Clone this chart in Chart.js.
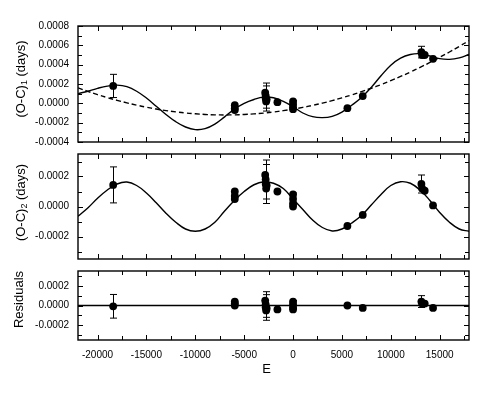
<!DOCTYPE html>
<html lang="en">
<head>
    <meta charset="UTF-8">
    <title>O-C diagram</title>
    <script src="https://cdn.jsdelivr.net/npm/chart.js"></script>
    <style>
        body {
            margin: 0;
            padding: 0;
            background: #fff;
        }
        .wrap {
            position: relative;
            width: 488px;
            height: 397px;
        }
        canvas {
            position: absolute;
            left: 0;
        }
    </style>
</head>
<body>
    <div class="wrap">
        <canvas id="c1" width="488" height="148" style="top:0px"></canvas>
        <canvas id="c2" width="488" height="116" style="top:148px"></canvas>
        <canvas id="c3" width="488" height="133" style="top:264px"></canvas>
    </div>

    <script>
        var obsE   = [-18400, -5960, -5960, -5960, -2850, -2800, -2800, -2750, -2700, -1600, 0, 0, 0, 0, 5560, 7130, 13130, 13200, 13470, 14320];
        var oc1    = [0.00018, -0.00002, -0.00005, -0.00007, 0.00011, 0.00008, 0.00005, 0.00002, 0.00004, 0.000012, 0.00002, -0.00001, -0.00004, -0.00006, -0.00005, 0.000075, 0.00053, 0.0005, 0.0005, 0.00046];
        var oc2    = [0.000144, 0.0001, 0.00007, 0.00005, 0.00021, 0.00018, 0.00015, 0.00012, 0.00014, 0.0001, 0.00008, 0.00005, 0.00002, 0.0, -0.00013, -0.000056, 0.00015, 0.00012, 0.000105, 0.000007];
        var resid  = [-0.000008, 0.00004, 0.00002, 0.0, 0.00005, 0.00001, -0.00002, -0.00005, -0.00003, -0.00004, 0.00004, 0.00001, -0.00002, -0.00004, 0.0, -0.000025, 0.00004, 0.00002, 0.00002, -0.000025];
        var obsErr = [0.00012, 0, 0, 0, 0, 0.00013, 0.00013, 0, 0, 0, 0, 0.00004, 0, 0, 0, 0, 0.00006, 0, 0, 0];

        // fitted curves, sampled off the plot
        var fitE = [-22000, -21000, -20000, -19000, -18000, -17000, -16000, -15000, -14000, -13000, -12000,
                    -11000, -10000, -9000, -8000, -7000, -6000, -5000, -4000, -3000, -2000, -1000, 0,
                    1000, 2000, 3000, 4000, 5000, 6000, 7000, 8000, 9000, 10000, 11000, 12000, 13000,
                    14000, 15000, 16000, 17000, 18000];
        var fitTotal = [0.0001, 0.000125, 0.000155, 0.000178, 0.000188, 0.000172, 0.000125, 0.000055, -0.00003, -0.000115, -0.00019,
                        -0.000245, -0.000272, -0.000262, -0.000215, -0.00014, -0.00006, 0.0, 0.00004, 0.000065, 0.000058, 0.00002, -0.000035,
                        -0.0001, -0.000138, -0.000148, -0.000135, -0.00009, -0.00002, 0.00006, 0.000165, 0.000285, 0.000395, 0.000468, 0.000505, 0.000513,
                        0.00049, 0.000462, 0.000455, 0.00047, 0.000505];
        var fitQuad = [0.00016, 0.000124, 0.00009, 0.000059, 0.000031, 0.000005, -0.000019, -0.00004, -0.000059, -0.000075, -0.000088,
                       -0.0001, -0.000108, -0.000115, -0.000119, -0.00012, -0.000119, -0.000115, -0.000109, -0.000101, -0.00009, -0.000076, -0.00006,
                       -0.000042, -0.000021, 0.000002, 0.000028, 0.000057, 0.000087, 0.000121, 0.000156, 0.000194, 0.000235, 0.000278, 0.000324, 0.000372,
                       0.000423, 0.000476, 0.000531, 0.000589, 0.000649];
        var fitLtte = [-0.000065, -0.00001, 0.000055, 0.00011, 0.00015, 0.000163, 0.00014, 0.00009, 0.000025, -0.000045, -0.000105,
                       -0.00015, -0.000165, -0.00015, -0.000105, -0.00003, 0.00004, 0.0001, 0.000145, 0.000165, 0.000155, 0.00012, 0.00005,
                       -0.00002, -0.00009, -0.00014, -0.000163, -0.00015, -0.00011, -0.00006, 0.00001, 0.00008, 0.00014, 0.000165, 0.000155, 0.00011,
                       0.00004, -0.00004, -0.000105, -0.00015, -0.000165];
        var zeroLineE = [-22000, 18000];
        var zeroLineV = [0, 0];

        // axes
        var xTicks = [-20000, -15000, -10000, -5000, 0, 5000, 10000, 15000];
        var yTicks1 = [-0.0004, -0.0002, 0, 0.0002, 0.0004, 0.0006, 0.0008];
        var yTicks2 = [-0.0002, 0, 0.0002];

        var FONT = "'Liberation Sans', Arial, sans-serif";

        function pts(xs, ys) {
            return xs.map(function (x, i) { return { x: x, y: ys[i], e: obsErr[i] }; });
        }
        function curve(xs, ys) {
            return xs.map(function (x, i) { return { x: x, y: ys[i] }; });
        }

        // frame, inward ticks, error bars and rotated y titles
        var decoPlugin = {
            id: 'deco',
            afterDatasetsDraw: function (chart) {
                var ctx = chart.ctx, a = chart.chartArea;
                var xs = chart.scales.x, ys = chart.scales.y;
                var o = chart.options.plugins.deco;
                ctx.save();
                ctx.strokeStyle = '#000';

                // error bars
                ctx.lineWidth = 1;
                chart.data.datasets.forEach(function (ds) {
                    if (!ds.errorBars) return;
                    ds.data.forEach(function (p) {
                        if (!p.e) return;
                        var px = Math.round(xs.getPixelForValue(p.x)) + 0.5;
                        var y1 = ys.getPixelForValue(p.y + p.e);
                        var y2 = ys.getPixelForValue(p.y - p.e);
                        ctx.beginPath();
                        ctx.moveTo(px, y1); ctx.lineTo(px, y2);
                        ctx.moveTo(px - 3.5, y1); ctx.lineTo(px + 3.5, y1);
                        ctx.moveTo(px - 3.5, y2); ctx.lineTo(px + 3.5, y2);
                        ctx.stroke();
                    });
                });

                // x ticks on top and bottom
                for (var v = -20000; v <= 17500; v += 2500) {
                    var tx = Math.round(xs.getPixelForValue(v)) + 0.5;
                    var len = (v % 5000 === 0) ? 5 : 4;
                    ctx.beginPath();
                    ctx.moveTo(tx, a.top); ctx.lineTo(tx, a.top + len);
                    ctx.moveTo(tx, a.bottom); ctx.lineTo(tx, a.bottom - len);
                    ctx.stroke();
                }
                // y ticks on left and right
                for (var k = Math.ceil(ys.min / 0.0001); k <= Math.floor(ys.max / 0.0001); k++) {
                    var ty = Math.round(ys.getPixelForValue(k * 0.0001)) + 0.5;
                    var ylen = (k % 2 === 0) ? 5 : 4;
                    ctx.beginPath();
                    ctx.moveTo(a.left, ty); ctx.lineTo(a.left + ylen, ty);
                    ctx.moveTo(a.right, ty); ctx.lineTo(a.right - ylen, ty);
                    ctx.stroke();
                }

                // box
                ctx.lineWidth = 1.4;
                ctx.strokeRect(a.left, a.top, a.right - a.left, a.bottom - a.top);

                // y title, reads bottom to top, with optional subscript
                ctx.fillStyle = '#000';
                ctx.textBaseline = 'middle';
                ctx.textAlign = 'left';
                var big = '13px ' + FONT, small = '9px ' + FONT;
                ctx.font = big;
                var w1 = ctx.measureText(o.pre).width;
                var w3 = ctx.measureText(o.post).width;
                ctx.font = small;
                var w2 = o.sub ? ctx.measureText(o.sub).width : 0;
                var total = w1 + w2 + w3;
                ctx.translate(o.tx, (a.top + a.bottom) / 2 + o.dy);
                ctx.rotate(-Math.PI / 2);
                ctx.font = big;
                ctx.fillText(o.pre, -total / 2, 0);
                if (o.sub) {
                    ctx.font = small;
                    ctx.fillText(o.sub, -total / 2 + w1, 4);
                }
                ctx.font = big;
                ctx.fillText(o.post, -total / 2 + w1 + w2, 0);
                ctx.restore();

                if (o.xTitle) {
                    ctx.save();
                    ctx.fillStyle = '#000';
                    ctx.font = '13px ' + FONT;
                    ctx.textAlign = 'center';
                    ctx.textBaseline = 'middle';
                    ctx.fillText(o.xTitle, (a.left + a.right) / 2 - 7, a.bottom + 29);
                    ctx.restore();
                }
            }
        };

        function makePanel(id, datasets, yMin, yMax, yTicks, pad, showX, deco) {
            return new Chart(document.getElementById(id).getContext('2d'), {
                type: 'scatter',
                data: { datasets: datasets },
                plugins: [decoPlugin],
                options: {
                    responsive: false,
                    animation: false,
                    layout: { padding: pad },
                    plugins: {
                        legend: { display: false },
                        tooltip: { enabled: false },
                        deco: deco
                    },
                    scales: {
                        x: {
                            type: 'linear',
                            min: -22000,
                            max: 18000,
                            display: showX,
                            grid: { display: false, drawTicks: false },
                            border: { display: false },
                            ticks: {
                                color: '#000',
                                font: { family: FONT, size: 10 },
                                padding: 9,
                                maxRotation: 0,
                                callback: function (v) { return String(v); }
                            },
                            afterBuildTicks: function (s) { s.ticks = xTicks.map(function (v) { return { value: v }; }); },
                            afterFit: function (s) {
                                if (showX) s.height = 57;
                                s.paddingLeft = 0; s.paddingRight = 0;
                            }
                        },
                        y: {
                            min: yMin,
                            max: yMax,
                            grid: { display: false, drawTicks: false },
                            border: { display: false },
                            ticks: {
                                color: '#000',
                                font: { family: FONT, size: 10 },
                                padding: 9,
                                callback: function (v) { return (+v).toFixed(4); }
                            },
                            afterBuildTicks: function (s) { s.ticks = yTicks.map(function (v) { return { value: v }; }); },
                            afterFit: function (s) {
                                s.width = 78;
                                s.paddingTop = 0; s.paddingBottom = 0;
                            }
                        }
                    }
                }
            });
        }

        var dots = { pointRadius: 3.9, pointBackgroundColor: '#000', pointBorderWidth: 0, errorBars: true };
        var solid = { showLine: true, pointRadius: 0, borderColor: '#000', borderWidth: 1.4, tension: 0.4 };

        makePanel('c1', [
            Object.assign({ data: curve(fitE, fitQuad), borderDash: [5, 3] }, solid),
            Object.assign({ data: curve(fitE, fitTotal) }, solid),
            Object.assign({ data: pts(obsE, oc1) }, dots)
        ], -0.0004, 0.0008, yTicks1, { top: 26, bottom: 6, left: 0, right: 19 }, false,
            { pre: '(O-C)', sub: '1', post: ' (days)', tx: 21, dy: -5 });

        makePanel('c2', [
            Object.assign({ data: curve(fitE, fitLtte) }, solid),
            Object.assign({ data: pts(obsE, oc2) }, dots)
        ], -0.00035, 0.00035, yTicks2, { top: 6, bottom: 5, left: 0, right: 19 }, false,
            { pre: '(O-C)', sub: '2', post: ' (days)', tx: 21, dy: -4 });

        makePanel('c3', [
            Object.assign({ data: curve(zeroLineE, zeroLineV) }, solid, { tension: 0 }),
            Object.assign({ data: pts(obsE, resid) }, dots)
        ], -0.00035, 0.00035, yTicks2, { top: 7, bottom: 0, left: 0, right: 19 }, true,
            { pre: 'Residuals', sub: '', post: '', tx: 19, dy: -6, xTitle: 'E' });
    </script>
</body>
</html>
